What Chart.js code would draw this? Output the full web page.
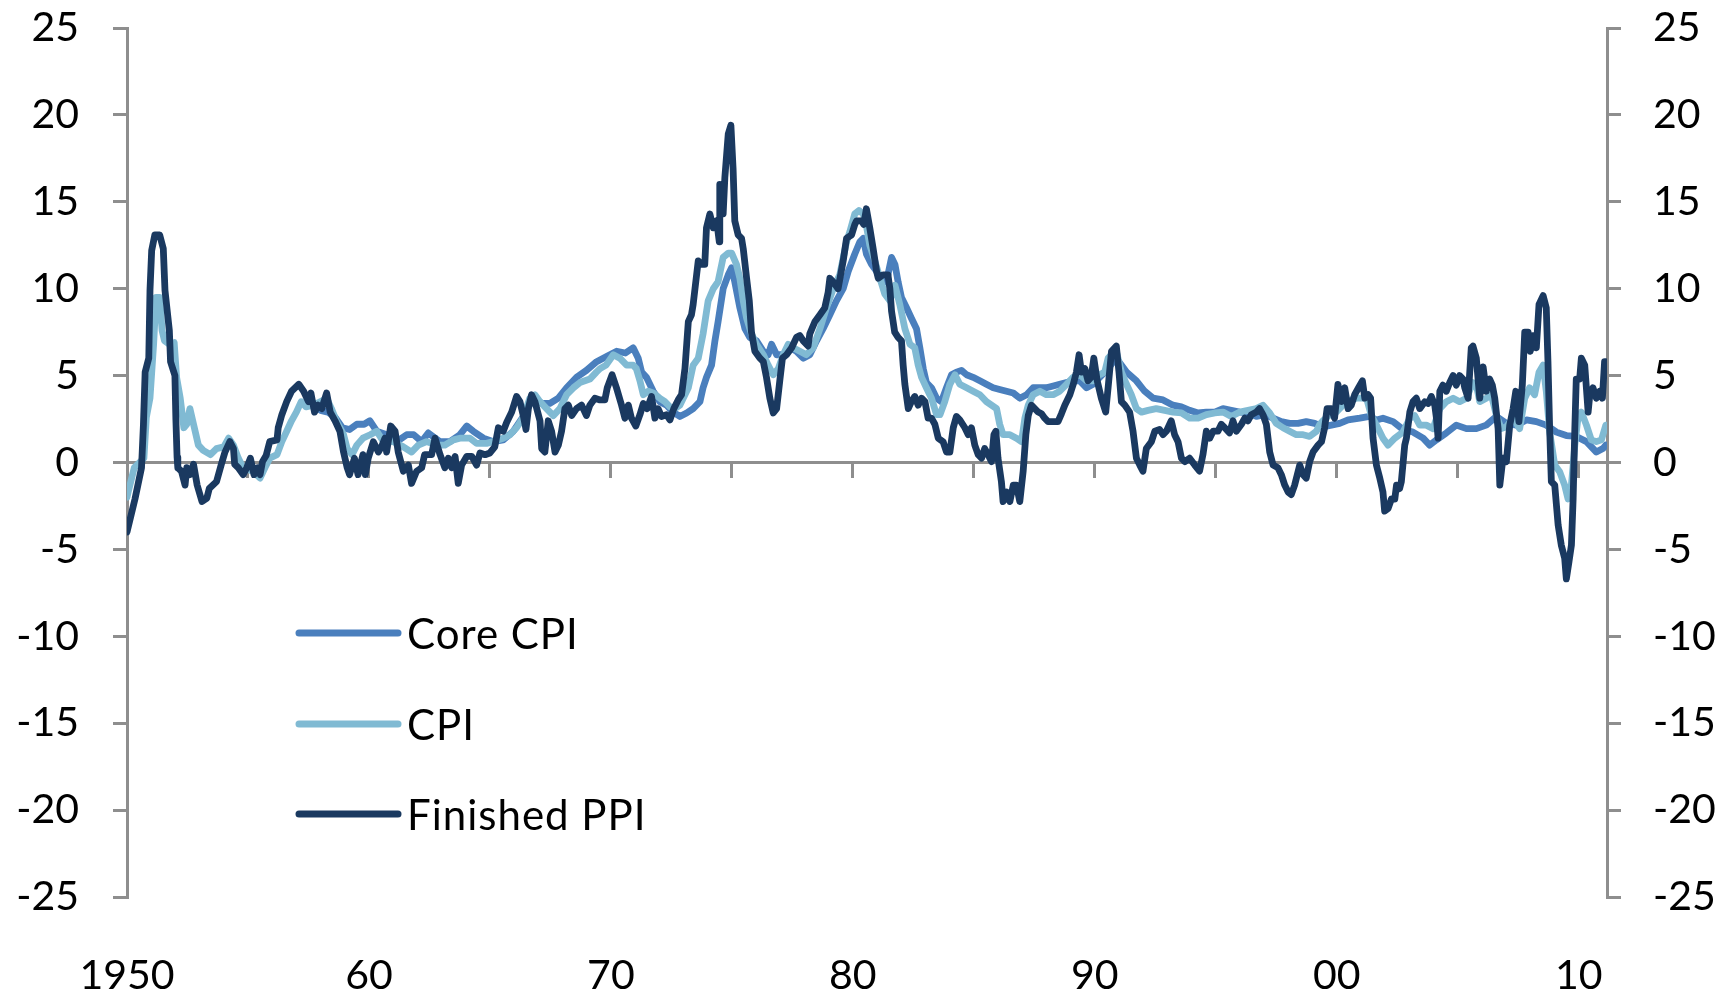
<!DOCTYPE html>
<html><head><meta charset="utf-8">
<script src="https://cdn.jsdelivr.net/npm/chart.js@4.4.1/dist/chart.umd.min.js"></script>
<style>html,body{margin:0;padding:0;background:#fff;}#wrap{width:1722px;height:999px;}</style>
</head><body><div id="wrap"><canvas id="c" width="1722" height="999"></canvas></div>
<script>
const seriesNames = ['Core CPI', 'CPI', 'Finished PPI'];
const seriesColors = ['#4a7fbd', '#80bad3', '#1a3960'];
const xLabelYears = [1950, 1960, 1970, 1980, 1990, 2000, 2010];
const xLabelTexts = ['1950', '60', '70', '80', '90', '00', '10'];
const xTickYears = [1950, 1955, 1960, 1965, 1970, 1975, 1980, 1985, 1990, 1995, 2000, 2005, 2010];

// [decimal year, % y/y]
const coreCPI = [
[1958.0,3.0],[1958.3,2.9],[1958.6,2.6],[1958.9,2.0],[1959.2,1.9],[1959.5,2.2],[1959.8,2.2],[1960.04,2.4],
[1960.32,1.8],[1960.73,1.6],[1961.15,1.2],[1961.56,1.6],[1961.85,1.6],[1962.18,1.2],[1962.45,1.7],[1962.94,1.2],
[1963.35,1.2],[1963.76,1.6],[1964.04,2.1],[1964.31,1.8],[1964.73,1.4],[1965.14,1.2],[1965.55,1.3],[1965.97,1.8],
[1966.38,2.65],[1966.79,3.7],[1967.14,3.4],[1967.48,3.4],[1967.83,3.7],[1968.17,4.3],[1968.58,4.9],[1968.99,5.3],
[1969.41,5.8],[1969.82,6.1],[1970.24,6.4],[1970.6,6.3],[1970.92,6.6],[1971.13,6.0],[1971.27,5.2],[1971.47,4.9],
[1971.75,4.1],[1972.02,3.5],[1972.3,3.3],[1972.57,2.9],[1972.85,2.65],[1973.13,2.85],[1973.4,3.1],[1973.68,3.5],
[1973.81,4.3],[1973.95,4.9],[1974.16,5.6],[1974.3,7.0],[1974.43,8.1],[1974.64,10.0],[1974.85,10.8],[1974.99,11.2],
[1975.12,10.4],[1975.33,8.9],[1975.54,7.7],[1975.74,7.2],[1976.02,7.0],[1976.3,6.4],[1976.5,6.2],[1976.64,6.8],
[1976.85,6.2],[1977.12,6.2],[1977.4,6.6],[1977.67,6.4],[1977.95,6.0],[1978.22,6.2],[1978.5,7.0],[1978.77,7.7],
[1979.05,8.5],[1979.32,9.3],[1979.6,10.0],[1979.81,11.0],[1980.08,12.0],[1980.29,12.7],[1980.43,12.9],[1980.56,12.0],
[1980.77,11.4],[1980.98,11.0],[1981.18,10.4],[1981.39,10.4],[1981.6,11.8],[1981.74,11.4],[1981.87,10.4],[1982.01,9.5],
[1982.22,8.9],[1982.42,8.3],[1982.63,7.7],[1982.77,6.6],[1982.91,5.4],[1983.04,4.6],[1983.25,4.3],[1983.46,3.7],
[1983.66,3.5],[1983.87,4.3],[1984.08,5.05],[1984.28,5.2],[1984.49,5.3],[1984.7,5.05],[1984.97,4.9],[1985.25,4.7],
[1985.52,4.5],[1985.8,4.3],[1986.07,4.2],[1986.35,4.1],[1986.63,4.0],[1986.9,3.7],[1987.18,3.9],[1987.45,4.3],
[1987.73,4.3],[1988.0,4.3],[1988.28,4.4],[1988.55,4.5],[1988.83,4.6],[1989.1,4.7],[1989.38,4.7],[1989.66,4.3],
[1989.93,4.5],[1990.2,4.9],[1990.48,5.3],[1990.89,6.0],[1991.31,5.2],[1991.72,4.7],[1992.06,4.1],[1992.41,3.7],
[1992.82,3.6],[1993.23,3.3],[1993.58,3.2],[1993.92,3.0],[1994.27,2.85],[1994.61,2.9],[1994.96,2.9],[1995.3,3.1],
[1995.64,3.0],[1995.99,2.9],[1996.33,2.85],[1996.68,2.65],[1997.02,2.75],[1997.37,2.55],[1997.71,2.35],[1998.05,2.25],
[1998.4,2.25],[1998.74,2.35],[1999.09,2.25],[1999.43,2.05],[1999.78,2.15],[2000.12,2.25],[2000.47,2.45],[2000.95,2.55],
[2001.36,2.65],[2001.64,2.45],[2001.91,2.55],[2002.33,2.35],[2002.74,1.9],[2003.15,1.75],[2003.57,1.4],[2003.84,1.0],
[2004.12,1.3],[2004.53,1.7],[2004.94,2.15],[2005.36,1.95],[2005.77,1.95],[2006.18,2.15],[2006.6,2.65],[2007.01,2.25],
[2007.42,2.15],[2007.84,2.45],[2008.25,2.35],[2008.66,2.15],[2009.08,1.75],[2009.49,1.55],[2009.9,1.5],[2010.32,1.2],
[2010.73,0.6],[2011.0,0.8],[2011.12,1.0]
];

const CPI = [
[1950.0,-2.0],[1950.05,-1.7],[1950.3,-0.3],[1950.7,0.25],[1950.8,2.6],[1950.95,3.7],[1951.1,6.8],[1951.2,9.5],
[1951.35,9.5],[1951.45,7.6],[1951.55,7.0],[1951.75,6.8],[1951.95,6.9],[1952.05,4.9],[1952.2,3.7],[1952.35,2.0],
[1952.47,2.2],[1952.6,3.1],[1952.75,2.2],[1952.95,1.0],[1953.15,0.7],[1953.45,0.45],[1953.7,0.8],[1954.0,0.9],
[1954.2,1.4],[1954.4,1.0],[1954.6,0.25],[1954.8,-0.3],[1955.2,-0.5],[1955.5,-0.9],[1955.7,-0.3],[1955.9,0.25],
[1956.2,0.45],[1956.4,1.2],[1956.6,1.8],[1956.8,2.4],[1957.0,2.9],[1957.2,3.5],[1957.4,3.2],[1957.7,3.3],
[1958.0,3.5],[1958.25,3.7],[1958.45,3.1],[1958.65,2.4],[1958.95,1.6],[1959.1,0.8],[1959.3,0.45],[1959.5,1.0],
[1959.75,1.4],[1960.05,1.6],[1960.32,1.8],[1960.6,1.2],[1961.01,1.2],[1961.42,0.9],[1961.76,0.6],[1962.04,1.0],
[1962.38,1.2],[1962.8,1.0],[1963.14,1.0],[1963.49,1.3],[1963.76,1.4],[1964.17,1.4],[1964.45,1.1],[1964.86,1.1],
[1965.14,1.2],[1965.55,1.4],[1965.83,1.6],[1966.1,2.0],[1966.38,2.6],[1966.65,3.7],[1966.86,3.9],[1967.07,3.5],
[1967.34,3.1],[1967.62,2.7],[1967.89,3.1],[1968.17,3.9],[1968.45,4.3],[1968.72,4.6],[1969.13,4.8],[1969.4,5.2],
[1969.55,5.4],[1969.8,5.6],[1970.1,6.2],[1970.37,6.0],[1970.65,5.6],[1970.92,5.6],[1971.05,5.4],[1971.2,4.7],
[1971.34,3.9],[1971.54,4.1],[1971.75,4.0],[1972.02,3.7],[1972.23,3.5],[1972.44,3.2],[1972.64,3.1],[1972.85,3.3],
[1973.06,3.9],[1973.2,4.3],[1973.4,5.6],[1973.61,6.0],[1973.81,7.4],[1974.02,9.3],[1974.23,10.0],[1974.43,10.4],
[1974.64,11.8],[1974.85,12.05],[1974.99,12.05],[1975.19,11.4],[1975.33,10.6],[1975.47,9.3],[1975.61,8.3],[1975.81,7.4],
[1976.02,6.8],[1976.3,6.2],[1976.5,5.6],[1976.71,5.05],[1976.92,5.4],[1977.12,6.2],[1977.33,6.8],[1977.53,6.6],
[1977.81,6.4],[1978.08,6.2],[1978.36,6.6],[1978.64,7.7],[1978.91,8.9],[1979.19,10.0],[1979.46,10.8],[1979.74,12.7],
[1979.88,13.3],[1980.08,14.3],[1980.25,14.5],[1980.43,14.3],[1980.55,13.7],[1980.7,12.5],[1980.91,11.6],[1981.12,10.6],
[1981.32,9.7],[1981.53,9.3],[1981.74,10.2],[1981.94,9.1],[1982.15,7.7],[1982.36,6.8],[1982.56,6.6],[1982.7,5.6],
[1982.84,4.9],[1983.04,4.3],[1983.25,3.7],[1983.46,2.75],[1983.6,2.75],[1983.8,3.5],[1984.01,4.5],[1984.22,5.05],
[1984.42,4.5],[1984.7,4.3],[1984.97,4.1],[1985.25,3.9],[1985.52,3.5],[1985.73,3.3],[1985.94,3.1],[1986.07,2.2],
[1986.21,1.6],[1986.49,1.6],[1986.76,1.4],[1986.97,1.2],[1987.11,2.55],[1987.25,3.3],[1987.45,3.9],[1987.73,4.1],
[1988.0,3.9],[1988.28,3.9],[1988.55,4.1],[1988.83,4.5],[1989.1,4.9],[1989.38,5.05],[1989.66,4.7],[1989.93,4.7],
[1990.2,5.05],[1990.41,5.2],[1990.55,6.0],[1990.69,6.2],[1990.89,6.4],[1991.1,5.2],[1991.31,4.5],[1991.51,3.9],
[1991.72,3.1],[1991.93,2.9],[1992.2,3.0],[1992.54,3.1],[1992.89,3.0],[1993.23,2.9],[1993.58,2.85],[1993.92,2.55],
[1994.27,2.55],[1994.61,2.75],[1994.96,2.85],[1995.3,2.9],[1995.64,2.65],[1995.99,2.9],[1996.33,3.0],[1996.68,3.1],
[1996.95,3.3],[1997.23,2.85],[1997.5,2.25],[1997.78,2.0],[1998.05,1.8],[1998.33,1.6],[1998.61,1.6],[1998.88,1.5],
[1999.16,1.8],[1999.3,2.2],[1999.43,2.4],[1999.71,2.75],[1999.98,2.9],[2000.26,3.3],[2000.6,3.6],[2000.81,3.7],
[2001.23,3.7],[2001.43,2.7],[2001.64,2.15],[2001.91,1.4],[2002.12,1.0],[2002.4,1.4],[2002.74,1.75],[2003.02,2.55],
[2003.22,2.7],[2003.43,2.15],[2003.7,2.15],[2003.98,1.95],[2004.26,3.1],[2004.53,3.5],[2004.81,3.7],[2005.08,3.5],
[2005.36,3.7],[2005.63,4.6],[2005.77,4.45],[2005.91,3.5],[2006.18,3.7],[2006.39,3.9],[2006.6,2.7],[2006.8,1.95],
[2007.01,2.05],[2007.29,2.55],[2007.56,1.95],[2007.77,3.7],[2007.97,4.3],[2008.18,3.9],[2008.36,5.2],[2008.53,5.6],
[2008.66,4.1],[2008.8,1.75],[2009.01,-0.15],[2009.22,-0.55],[2009.42,-1.3],[2009.56,-2.1],[2009.7,-1.3],[2009.84,1.0],
[2009.97,2.55],[2010.11,2.9],[2010.32,2.15],[2010.52,1.3],[2010.73,1.2],[2010.94,1.3],[2011.12,2.15]
];

const finishedPPI = [
[1950.0,-4.0],[1950.12,-3.3],[1950.33,-2.1],[1950.6,-0.3],[1950.68,2.2],[1950.75,5.2],[1950.9,6.0],[1950.95,9.9],
[1951.02,12.2],[1951.15,13.1],[1951.35,13.1],[1951.5,12.3],[1951.57,9.9],[1951.75,7.6],[1951.8,5.8],[1951.98,5.0],
[1952.02,2.5],[1952.07,0.3],[1952.1,-0.3],[1952.25,-0.5],[1952.4,-1.3],[1952.47,-0.3],[1952.6,-0.7],[1952.75,-0.1],
[1952.9,-1.3],[1953.1,-2.25],[1953.3,-2.05],[1953.4,-1.5],[1953.7,-1.1],[1953.9,-0.1],[1954.05,0.6],[1954.25,1.2],
[1954.4,0.8],[1954.45,-0.1],[1954.6,-0.3],[1954.8,-0.7],[1954.95,-0.3],[1955.1,0.25],[1955.25,-0.7],[1955.4,-0.3],
[1955.5,-0.7],[1955.6,0.05],[1955.75,0.4],[1955.9,1.2],[1956.2,1.3],[1956.25,2.0],[1956.4,2.75],[1956.6,3.5],
[1956.8,4.1],[1957.1,4.5],[1957.3,4.1],[1957.5,3.5],[1957.6,4.0],[1957.75,2.9],[1957.9,3.3],[1958.05,3.1],
[1958.25,4.0],[1958.4,2.9],[1958.6,2.4],[1958.8,1.8],[1958.95,0.6],[1959.1,-0.3],[1959.2,-0.7],[1959.4,0.25],
[1959.55,-0.7],[1959.75,0.45],[1959.85,-0.7],[1959.97,0.25],[1960.18,1.2],[1960.39,0.6],[1960.52,0.9],[1960.66,1.4],
[1960.73,0.6],[1960.9,2.1],[1961.08,1.8],[1961.21,0.6],[1961.42,-0.5],[1961.63,-0.15],[1961.76,-1.2],[1961.97,-0.5],
[1962.18,-0.3],[1962.3,0.45],[1962.59,0.45],[1962.73,1.4],[1962.94,0.45],[1963.14,-0.3],[1963.28,0.25],[1963.42,-0.3],
[1963.56,0.35],[1963.69,-1.2],[1963.83,-0.15],[1964.04,0.35],[1964.25,0.35],[1964.45,-0.15],[1964.59,0.55],[1964.8,0.45],
[1965.0,0.55],[1965.2,0.9],[1965.35,2.0],[1965.55,1.8],[1965.69,2.3],[1965.9,2.9],[1966.1,3.8],[1966.24,3.5],
[1966.38,2.7],[1966.49,1.9],[1966.59,3.1],[1966.72,3.9],[1966.86,3.5],[1967.07,2.4],[1967.14,0.8],[1967.27,0.6],
[1967.41,2.4],[1967.55,1.8],[1967.69,0.6],[1967.83,1.0],[1967.96,1.8],[1968.1,3.1],[1968.24,3.3],[1968.38,2.7],
[1968.58,3.1],[1968.79,3.3],[1968.99,2.7],[1969.13,3.3],[1969.34,3.7],[1969.55,3.6],[1969.75,3.6],[1969.85,4.3],
[1970.05,5.05],[1970.23,4.3],[1970.44,3.3],[1970.58,2.55],[1970.72,3.3],[1970.85,2.55],[1971.03,2.1],[1971.2,2.75],
[1971.34,3.4],[1971.5,3.1],[1971.68,3.8],[1971.82,2.55],[1971.95,3.1],[1972.09,2.65],[1972.3,2.75],[1972.44,2.45],
[1972.6,3.1],[1972.78,3.6],[1972.92,3.9],[1973.06,5.4],[1973.2,8.1],[1973.33,8.5],[1973.4,9.1],[1973.61,11.6],
[1973.75,11.4],[1973.88,11.4],[1973.95,13.5],[1974.09,14.3],[1974.23,13.5],[1974.37,13.9],[1974.48,12.7],[1974.5,16.0],
[1974.64,14.3],[1974.71,16.4],[1974.85,18.9],[1974.96,19.4],[1975.05,16.9],[1975.12,13.9],[1975.26,13.1],[1975.4,12.9],
[1975.47,12.3],[1975.61,10.6],[1975.72,9.3],[1975.81,7.5],[1975.95,6.4],[1976.16,6.0],[1976.3,5.8],[1976.43,4.9],
[1976.57,3.7],[1976.71,2.85],[1976.85,3.1],[1976.98,4.7],[1977.09,6.0],[1977.26,6.2],[1977.47,6.6],[1977.67,7.2],
[1977.81,7.3],[1977.95,7.0],[1978.15,6.7],[1978.22,7.4],[1978.43,8.1],[1978.64,8.5],[1978.84,8.9],[1978.98,9.8],
[1979.05,10.6],[1979.19,10.4],[1979.39,10.0],[1979.6,11.6],[1979.74,12.9],[1979.95,13.1],[1980.08,13.7],[1980.15,13.9],
[1980.36,13.9],[1980.45,13.7],[1980.56,14.6],[1980.7,13.5],[1980.84,12.3],[1980.98,11.0],[1981.05,10.6],[1981.25,10.8],
[1981.45,10.8],[1981.53,10.0],[1981.6,8.7],[1981.73,7.5],[1981.87,7.2],[1982.01,7.0],[1982.08,5.6],[1982.15,4.5],
[1982.29,3.1],[1982.42,3.5],[1982.56,3.8],[1982.7,3.3],[1982.84,3.7],[1982.98,3.5],[1983.11,2.55],[1983.25,2.55],
[1983.39,2.2],[1983.53,1.4],[1983.73,1.2],[1983.87,0.6],[1984.01,0.6],[1984.15,2.0],[1984.28,2.65],[1984.42,2.45],
[1984.63,2.0],[1984.77,1.6],[1984.9,2.0],[1985.04,1.0],[1985.18,0.45],[1985.32,0.25],[1985.45,0.8],[1985.59,0.45],
[1985.73,0.05],[1985.83,1.6],[1985.91,1.8],[1986.0,0.25],[1986.14,-1.1],[1986.21,-2.25],[1986.35,-1.7],[1986.49,-2.25],
[1986.63,-1.3],[1986.76,-1.3],[1986.9,-2.25],[1987.04,-0.5],[1987.15,1.6],[1987.25,2.7],[1987.38,3.3],[1987.52,3.1],
[1987.66,2.9],[1987.8,2.8],[1987.93,2.55],[1988.07,2.35],[1988.28,2.35],[1988.48,2.35],[1988.62,2.8],[1988.76,3.3],
[1988.97,3.9],[1989.11,4.5],[1989.24,5.2],[1989.35,6.2],[1989.45,5.2],[1989.59,5.4],[1989.72,4.7],[1989.85,4.9],
[1989.96,6.0],[1990.1,4.7],[1990.27,3.7],[1990.45,2.9],[1990.55,4.3],[1990.69,6.4],[1990.89,6.7],[1991.0,5.2],
[1991.1,3.5],[1991.24,3.3],[1991.44,2.9],[1991.58,1.8],[1991.72,0.25],[1991.86,-0.15],[1991.99,-0.5],[1992.13,0.8],
[1992.34,1.2],[1992.48,1.8],[1992.68,1.9],[1992.82,1.6],[1992.96,1.8],[1993.16,2.4],[1993.3,1.6],[1993.44,1.2],
[1993.58,0.25],[1993.72,0.05],[1993.92,0.25],[1994.13,-0.15],[1994.33,-0.5],[1994.47,0.45],[1994.61,1.8],[1994.75,1.4],
[1994.89,1.8],[1995.09,1.8],[1995.23,2.2],[1995.37,2.0],[1995.57,1.7],[1995.71,2.4],[1995.85,1.8],[1996.06,2.2],
[1996.2,2.55],[1996.33,2.4],[1996.47,2.75],[1996.68,2.9],[1996.81,3.1],[1996.95,2.75],[1997.09,2.2],[1997.23,0.6],
[1997.37,-0.15],[1997.57,-0.3],[1997.71,-0.7],[1997.85,-1.3],[1997.99,-1.7],[1998.12,-1.85],[1998.26,-1.3],[1998.47,-0.15],
[1998.61,-0.7],[1998.74,-0.9],[1998.88,0.05],[1999.02,0.6],[1999.23,1.0],[1999.37,1.2],[1999.5,2.0],[1999.6,3.1],
[1999.78,3.1],[1999.91,2.55],[2000.05,4.5],[2000.19,3.5],[2000.33,4.3],[2000.47,3.1],[2000.6,3.3],[2000.74,3.9],
[2000.9,4.3],[2001.06,4.7],[2001.16,3.7],[2001.3,3.9],[2001.4,3.7],[2001.5,1.4],[2001.64,-0.15],[2001.78,-0.9],
[2001.91,-1.7],[2001.98,-2.8],[2002.12,-2.65],[2002.26,-2.1],[2002.4,-2.1],[2002.47,-1.3],[2002.6,-1.5],[2002.67,-1.1],
[2002.81,1.0],[2002.88,1.4],[2003.02,2.9],[2003.15,3.5],[2003.29,3.7],[2003.43,3.1],[2003.64,3.5],[2003.78,3.4],
[2003.91,3.8],[2004.05,3.3],[2004.12,2.55],[2004.19,1.4],[2004.26,4.1],[2004.39,4.45],[2004.53,4.1],[2004.67,4.6],
[2004.81,5.0],[2004.94,4.45],[2005.08,5.0],[2005.22,4.8],[2005.29,4.3],[2005.43,3.7],[2005.56,6.6],[2005.63,6.7],
[2005.77,6.0],[2005.84,4.8],[2005.91,3.7],[2006.05,5.5],[2006.18,4.1],[2006.32,4.8],[2006.43,4.45],[2006.53,3.7],
[2006.67,1.95],[2006.74,-1.3],[2006.87,0.25],[2007.01,0.05],[2007.15,2.15],[2007.29,3.1],[2007.4,4.1],[2007.53,2.35],
[2007.67,4.45],[2007.77,7.5],[2007.91,7.5],[2008.0,6.4],[2008.11,7.3],[2008.25,6.6],[2008.36,9.1],[2008.53,9.6],
[2008.66,8.9],[2008.73,5.8],[2008.8,1.95],[2008.87,-1.1],[2009.01,-1.3],[2009.15,-3.6],[2009.28,-4.75],[2009.42,-5.5],
[2009.49,-6.7],[2009.6,-5.7],[2009.7,-4.75],[2009.77,-2.1],[2009.84,1.95],[2009.9,4.8],[2010.04,4.8],[2010.11,6.0],
[2010.25,5.6],[2010.39,2.9],[2010.46,3.9],[2010.59,4.3],[2010.73,3.7],[2010.87,4.1],[2010.98,3.7],[2011.07,5.8],[2011.12,5.8]
];

const seriesData = [coreCPI, CPI, finishedPPI];
const X_MIN = 1950, X_MAX = 2011.17;
const AXIS_GREY = '#8e8e8e';
const FONT = {family: 'Lato, "Open Sans", sans-serif', size: 41};

const legendPlugin = {
  id: 'insideLegend',
  afterDatasetsDraw(chart) {
    const ctx = chart.ctx;
    const ys = [633, 724, 814];
    ctx.save();
    chart.data.datasets.forEach((ds, i) => {
      ctx.strokeStyle = ds.borderColor;
      ctx.lineWidth = 7;
      ctx.lineCap = 'round';
      ctx.beginPath();
      ctx.moveTo(299, ys[i]);
      ctx.lineTo(398, ys[i]);
      ctx.stroke();
      ctx.fillStyle = '#000';
      ctx.font = `42px ${FONT.family}`;
      try { ctx.letterSpacing = '1px'; } catch (e) {}
      ctx.textBaseline = 'middle';
      ctx.textAlign = 'left';
      ctx.fillText(ds.label, 407, ys[i] + 2);
    });
    ctx.restore();
  }
};

const datasets = seriesNames.map((name, i) => ({
  label: name,
  data: seriesData[i].map(p => ({x: p[0], y: p[1]})),
  borderColor: seriesColors[i],
  backgroundColor: seriesColors[i],
  borderWidth: 6.8,
  pointRadius: 0,
  tension: 0,
  borderJoinStyle: 'round',
  borderCapStyle: 'round',
  order: 3 - i,
  xAxisID: 'x',
  yAxisID: 'y'
}));

const yAxisCommon = {
  type: 'linear', min: -25, max: 25,
  grid: {drawOnChartArea: false, drawTicks: true, tickLength: 14, color: AXIS_GREY, lineWidth: 3},
  border: {display: true, color: AXIS_GREY, width: 3},
  ticks: {stepSize: 5, color: '#000', font: FONT}
};

new Chart(document.getElementById('c'), {
  type: 'line',
  data: {datasets},
  plugins: [legendPlugin],
  options: {
    responsive: false,
    animation: false,
    devicePixelRatio: 1,
    layout: {padding: {top: 28, left: 0, right: 0, bottom: 0}},
    plugins: {legend: {display: false}, tooltip: {enabled: false}},
    scales: {
      x: {
        type: 'linear', min: X_MIN, max: X_MAX, position: {y: 0},
        afterBuildTicks: s => { s.ticks = xTickYears.map(v => ({value: v})); },
        grid: {drawOnChartArea: false, drawTicks: true, tickLength: 14, color: AXIS_GREY, lineWidth: 3},
        border: {display: true, color: AXIS_GREY, width: 3},
        ticks: {display: false}
      },
      xl: {
        type: 'linear', min: X_MIN, max: X_MAX, position: 'bottom',
        afterBuildTicks: s => { s.ticks = xLabelYears.map(v => ({value: v})); },
        afterFit: s => { s.height = 102; s.paddingLeft = 0; s.paddingRight = 0; },
        grid: {display: false, drawTicks: false},
        border: {display: false},
        ticks: {
          padding: 54, maxRotation: 0, autoSkip: false, color: '#000', font: FONT,
          callback: v => xLabelTexts[xLabelYears.indexOf(v)]
        }
      },
      y: Object.assign({}, yAxisCommon, {
        position: 'left',
        afterFit: s => { s.width = 127; s.paddingTop = 0; s.paddingBottom = 0; },
        ticks: Object.assign({}, yAxisCommon.ticks, {padding: 34})
      }),
      y2: Object.assign({}, yAxisCommon, {
        position: 'right',
        afterFit: s => { s.width = 115; s.paddingTop = 0; s.paddingBottom = 0; },
        ticks: Object.assign({}, yAxisCommon.ticks, {padding: 32})
      })
    }
  }
});
</script>
</body></html>
